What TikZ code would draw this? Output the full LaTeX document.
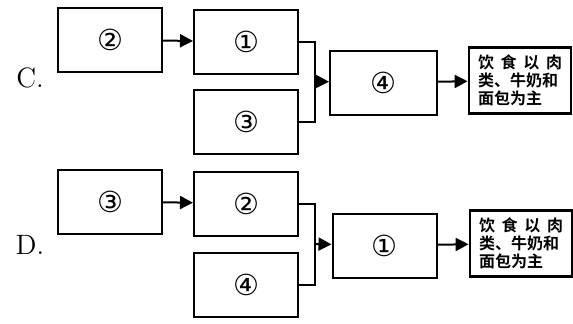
\documentclass[tikz,border=0pt]{standalone}
\usepackage{fontspec}
\newfontfamily\cjk{Noto Sans CJK SC}[BoldFont={Noto Sans CJK SC Bold}]
\newfontfamily\circfont{DejaVu Sans}
\usetikzlibrary{arrows.meta}
\begin{document}
\begin{tikzpicture}[x=0.5pt,y=-0.5pt,
		box/.style={draw,line width=1pt,minimum width=52pt,minimum height=32pt,inner sep=0pt,font=\circfont\fontsize{14.5}{16}\selectfont},
		result/.style={draw,line width=1.4pt,minimum width=51pt,minimum height=33pt,inner sep=0pt,font=\cjk\bfseries\fontsize{8}{9}\selectfont},
		arr/.style={line width=1pt,-{Triangle[length=6.5pt,width=6.5pt]}},
		link/.style={line width=1pt},
		option/.style={font=\fontsize{14}{16}\selectfont}]
		\useasboundingbox (0,0) rectangle (573,323);

		% вариант C
		\node [option] (labC) at ( 30, 78 ) {C.};
		\node [box] (c2) at ( 110, 40 ) {②};
		\node [box] (c1) at ( 246, 41.5 ) {①};
		\node [box] (c3) at ( 246, 121.5 ) {③};
		\node [box, minimum width=53.5pt] (c4) at ( 383.5, 82.5 ) {④};
		\node [result] (cres) at ( 520, 80.5 ) {\parbox{42pt}{饮\hfill 食\hfill 以\hfill 肉\\类、牛奶和\\面包为主}};
		\coordinate (cj) at ( 315, 81.5 );
		\draw [arr] (c2) -- (c1);
		\draw [link] (c1.east) -| (cj) |- (c3.east);
		\draw [arr] (cj) -- (c4);
		\draw [arr] (c4) -- (cres);

		% вариант D
		\node [option] (labD) at ( 30, 245 ) {D.};
		\node [box] (d3) at ( 110, 201.5 ) {③};
		\node [box] (d2) at ( 246, 203.5 ) {②};
		\node [box] (d4) at ( 246, 284.5 ) {④};
		\node [box] (d1) at ( 384.5, 245.5 ) {①};
		\node [result] (dres) at ( 521, 243.5 ) {\parbox{42pt}{饮\hfill 食\hfill 以\hfill 肉\\类、牛奶和\\面包为主}};
		\coordinate (dj) at ( 315, 244 );
		\draw [arr] (d3) -- (d2);
		\draw [link] (d2.east) -| (dj) |- (d4.east);
		\draw [arr] (dj) -- (d1);
		\draw [arr] (d1) -- (dres);
	\end{tikzpicture}
\end{document}
